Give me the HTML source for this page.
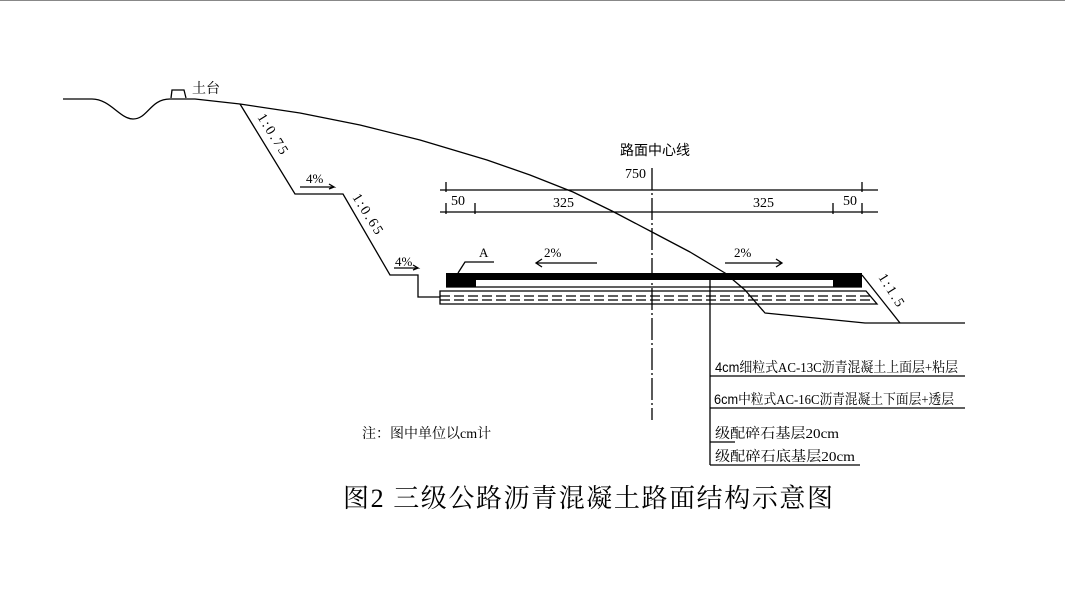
<!DOCTYPE html>
<html><head><meta charset="utf-8"><style>
body{margin:0;background:#fff}
svg text{font-family:"Liberation Serif","Noto Serif CJK SC",serif;fill:#000}
.s{font-family:"Liberation Sans","Noto Sans CJK SC",sans-serif}
</style></head><body>
<svg width="1065" height="593" viewBox="0 0 1065 593" xmlns="http://www.w3.org/2000/svg">
<line x1="0" y1="0.5" x2="1065" y2="0.5" stroke="#888"/>
<g fill="none" stroke="#000" stroke-width="1.3">
<path d="M63,99 L92,99 C110,99 120,119 133,119 C148,119 150,99 170,99 L195,99 L240,104 L300,113 L360,125 L420,140 L487,160 L530,175 L573,192 L612,211 L652,232 L690,252 L725,273 L745,290 L765,313 L865,323 L965,323" stroke-linejoin="round"/>
<path d="M240,104 L295,194 L343,194 L390,275 L418,275 L418,297 L440,297"/>
<path d="M171,98 L172,90 L184,90 L186,98"/>
<path d="M300,187 L334,187 L329,184 M334,187 L329,189"/>
<path d="M394,268 L418,268 L413,265 M418,268 L413,270"/>
<line x1="440" y1="190" x2="878" y2="190"/><line x1="440" y1="212" x2="878" y2="212"/>
<path d="M446,182 V192 M862,182 V192 M446,203 V214 M475,203 V214 M833,203 V214 M862,203 V214"/>
<path d="M652,168 V420" stroke-dasharray="22,3,2,3"/>
<path d="M440,291 H866 L877,304 H440 Z"/>
<path d="M440,296 H870 M440,300 H874" stroke-dasharray="10,4"/>
<path d="M862,275 L900,323"/>
<path d="M458,273 L465,262 L494,262"/>
<path d="M597,263 L536,263 M542,259 L536,263 L542,267"/>
<path d="M725,263 L782,263 M776,259 L782,263 L776,267"/>
<path d="M710,280 V465 M710,376 H965 M710,408 H965 M710,442 H735 M710,465 H860"/>
</g>
<rect x="446" y="273" width="416" height="7" fill="#000"/>
<rect x="446" y="273" width="30" height="14" fill="#000"/>
<rect x="833" y="273" width="29" height="14" fill="#000"/>
<line x1="446" y1="287" x2="862" y2="287" stroke="#000" stroke-width="1.2"/>
<text x="192" y="93" font-size="14">土台</text>
<text x="0" y="0" font-size="14" letter-spacing="2" transform="translate(257,117) rotate(58)">1:0.75</text>
<text x="0" y="0" font-size="14" letter-spacing="2" transform="translate(352,197) rotate(58)">1:0.65</text>
<text x="306" y="183" font-size="13">4%</text>
<text x="395" y="266" font-size="13">4%</text>
<text x="0" y="0" font-size="14" letter-spacing="2" transform="translate(878,277) rotate(58)">1:1.5</text>
<text x="620" y="155" font-size="14" class="s">路面中心线</text>
<text x="625" y="178" font-size="14">750</text>
<text x="451" y="205" font-size="14">50</text>
<text x="553" y="207" font-size="14">325</text>
<text x="753" y="207" font-size="14">325</text>
<text x="843" y="205" font-size="14">50</text>
<text x="479" y="257" font-size="13">A</text>
<text x="544" y="257" font-size="13">2%</text>
<text x="734" y="257" font-size="13">2%</text>
<text x="715" y="372" font-size="14" textLength="243" lengthAdjust="spacingAndGlyphs"><tspan class="s">4cm</tspan>细粒式AC-13C沥青混凝土上面层+粘层</text>
<text x="714" y="404" font-size="14" textLength="240" lengthAdjust="spacingAndGlyphs"><tspan class="s">6cm</tspan>中粒式AC-16C沥青混凝土下面层+透层</text>
<text x="715" y="438" font-size="14" textLength="124" lengthAdjust="spacingAndGlyphs">级配碎石基层20cm</text>
<text x="715" y="461" font-size="14" textLength="140" lengthAdjust="spacingAndGlyphs">级配碎石底基层20cm</text>
<text x="362" y="438" font-size="14">注：图中单位以cm计</text>
<text x="343" y="507" font-size="26" textLength="490" lengthAdjust="spacing">图2 三级公路沥青混凝土路面结构示意图</text>
</svg>
</body></html>
